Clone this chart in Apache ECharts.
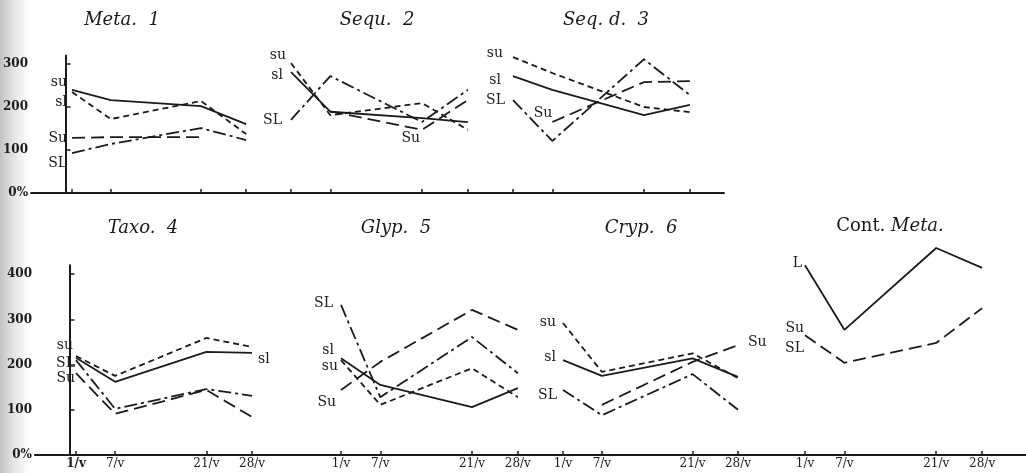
<!DOCTYPE html>
<html><head><meta charset="utf-8">
<script src="https://cdn.jsdelivr.net/npm/echarts@6/dist/echarts.min.js"></script>
<style>html,body{margin:0;padding:0;background:#fff}#c{width:1026px;height:473px}</style>
</head><body><div id="c"></div>
<script>
// ---------- data ----------
const dates = [1, 7, 21, 28];
const dateLabels = ['1/v', '7/v', '21/v', '28/v'];
const yTicksTop = [0, 100, 200, 300];
const yTicksBottom = [0, 100, 200, 300, 400];
const panelTitles = ['Meta.  1', 'Sequ.  2', 'Seq. d.  3', 'Taxo.  4', 'Glyp.  5', 'Cryp.  6', '{n|Cont.} {i|Meta.}'];

// Meta. 1
const meta_su = [235, 172, 214, 137];
const meta_sl = [240, 216, 202, 160];
const meta_Su = [128, 130, 130, null];
const meta_SL = [93, 114, 151, 123];
// Sequ. 2
const sequ_su = [302, 181, 209, 147];
const sequ_sl = [281, 189, 174, 165];
const sequ_Su = [null, 190, 147, 216];
const sequ_SL = [170, 272, 165, 240];
// Seq. d. 3
const seqd_su = [316, 279, 200, 188];
const seqd_sl = [272, 240, 181, 205];
const seqd_Su = [null, 165, 258, 260];
const seqd_SL = [216, 121, 311, 228];
// Taxo. 4
const taxo_su = [219, 175, 259, 239];
const taxo_sl = [215, 162, 228, 226];
const taxo_Su = [181, 91, 144, 84];
const taxo_SL = [210, 102, 146, 131];
// Glyp. 5
const glyp_su = [210, 111, 192, 128];
const glyp_sl = [214, 155, 106, 148];
const glyp_Su = [144, 206, 321, 277];
const glyp_SL = [332, 128, 261, 181];
// Cryp. 6
const cryp_su = [292, 184, 225, 170];
const cryp_sl = [210, 175, 214, 173];
const cryp_Su = [null, 111, 206, 243];
const cryp_SL = [144, 88, 179, 100];
// Cont. Meta.
const cont_L = [420, 277, 458, 414];
const cont_SuSL = [265, 204, 248, 325];

// ---------- layout & style ----------
const SERIF = '"DejaVu Serif", "Liberation Serif", serif';
const INK = '#1b1b1b';
const dash = {
  su: [6, 4],
  sl: 'solid',
  Su: [13, 6],
  SL: [13, 4, 3, 4],
  L: 'solid',
  SuSL: [13, 6]
};
const rows = {
  top: {top: 55.4, height: 137.6, max: 320, ticks: yTicksTop},
  bot: {top: 265.2, height: 189.8, max: 420, ticks: yTicksBottom}
};
const panels = [
  {row: 'top', left: 31, right: 265, x1: 72, ppd: 6.45, showY: true, showX: false,
   title: [122, 20], series: [
    {name: 'su', key: 'su', data: meta_su, lab: {i: 0, pos: 'left', d: 5, dy: -10}},
    {name: 'sl', key: 'sl', data: meta_sl, lab: {i: 0, pos: 'left', d: 5, dy: 13}},
    {name: 'Su', key: 'Su', data: meta_Su, lab: {i: 0, pos: 'left', d: 5, dy: 0}},
    {name: 'SL', key: 'SL', data: meta_SL, lab: {i: 0, pos: 'left', d: 5, dy: 10}}]},
  {row: 'top', left: 265, right: 490, x1: 291, ppd: 6.55, showY: false, showX: false,
   title: [377, 20], series: [
    {name: 'su', key: 'su', data: sequ_su, lab: {i: 0, pos: 'left', d: 5, dy: -8}},
    {name: 'sl', key: 'sl', data: sequ_sl, lab: {i: 0, pos: 'left', d: 8, dy: 3}},
    {name: 'Su', key: 'Su', data: sequ_Su, lab: {i: 2, pos: 'left', d: 2, dy: 9}},
    {name: 'SL', key: 'SL', data: sequ_SL, lab: {i: 0, pos: 'left', d: 9, dy: 0}}]},
  {row: 'top', left: 490, right: 724, x1: 513, ppd: 6.55, showY: false, showX: false,
   title: [606, 20], series: [
    {name: 'su', key: 'su', data: seqd_su, lab: {i: 0, pos: 'left', d: 10, dy: -4}},
    {name: 'sl', key: 'sl', data: seqd_sl, lab: {i: 0, pos: 'left', d: 12, dy: 4}},
    {name: 'Su', key: 'Su', data: seqd_Su, lab: {i: 1, pos: 'left', d: 0, dy: -9}},
    {name: 'SL', key: 'SL', data: seqd_SL, lab: {i: 0, pos: 'left', d: 8, dy: 0}}]},
  {row: 'bot', left: 35, right: 300, x1: 76, ppd: 6.52, showY: true, showX: true, boldFirst: true,
   title: [143, 228], series: [
    {name: 'su', key: 'su', data: taxo_su, lab: {i: 0, pos: 'left', d: 3, dy: -11}},
    {name: 'sl', key: 'sl', data: taxo_sl, lab: {i: 3, pos: 'right', d: 6, dy: 6}},
    {name: 'Su', key: 'Su', data: taxo_Su, lab: {i: 0, pos: 'left', d: 1, dy: 5}},
    {name: 'SL', key: 'SL', data: taxo_SL, lab: {i: 0, pos: 'left', d: 1, dy: 3}}]},
  {row: 'bot', left: 300, right: 540, x1: 341, ppd: 6.55, showY: false, showX: true,
   title: [396, 228], series: [
    {name: 'su', key: 'su', data: glyp_su, lab: {i: 0, pos: 'left', d: 3, dy: 6}},
    {name: 'sl', key: 'sl', data: glyp_sl, lab: {i: 0, pos: 'left', d: 7, dy: -8}},
    {name: 'Su', key: 'Su', data: glyp_Su, lab: {i: 0, pos: 'left', d: 5, dy: 12}},
    {name: 'SL', key: 'SL', data: glyp_SL, lab: {i: 0, pos: 'left', d: 8, dy: -2}}]},
  {row: 'bot', left: 540, right: 770, x1: 563, ppd: 6.48, showY: false, showX: true,
   title: [641, 228], series: [
    {name: 'su', key: 'su', data: cryp_su, lab: {i: 0, pos: 'left', d: 7, dy: -1}},
    {name: 'sl', key: 'sl', data: cryp_sl, lab: {i: 0, pos: 'left', d: 7, dy: -3}},
    {name: 'Su', key: 'Su', data: cryp_Su, lab: {i: 3, pos: 'right', d: 10, dy: -3}},
    {name: 'SL', key: 'SL', data: cryp_SL, lab: {i: 0, pos: 'left', d: 6, dy: 5}}]},
  {row: 'bot', left: 770, right: 1026, x1: 805, ppd: 6.56, showY: false, showX: true,
   title: [890, 226], series: [
    {name: 'L', key: 'L', data: cont_L, lab: {i: 0, pos: 'left', d: 3, dy: -2}},
    {name: 'Su\nSL', key: 'SuSL', data: cont_SuSL, lab: {i: 0, pos: 'left', d: 1, dy: 3}}]}
];

// ---------- build ----------
const grid = [], xAxis = [], yAxis = [], series = [], graphic = [];
graphic.push({type: 'rect', left: 0, top: 0, z: -10, silent: true,
  shape: {width: 34, height: 473},
  style: {fill: new echarts.graphic.LinearGradient(0, 0, 1, 0, [
    {offset: 0, color: 'rgba(120,120,120,0.45)'},
    {offset: 0.6, color: 'rgba(170,170,170,0.18)'},
    {offset: 1, color: 'rgba(255,255,255,0)'}])}});

panels.forEach((p, gi) => {
  const r = rows[p.row];
  grid.push({left: p.left, width: p.right - p.left, top: r.top, height: r.height});
  xAxis.push({
    type: 'value', gridIndex: gi,
    min: dates[0] - (p.x1 - p.left) / p.ppd,
    max: dates[0] + (p.right - p.x1) / p.ppd,
    splitLine: {show: false},
    axisLine: {show: true, onZero: false, lineStyle: {color: INK, width: 2}},
    axisTick: {show: true, inside: true, length: 4, customValues: dates, lineStyle: {color: INK, width: 1.5}},
    axisLabel: {show: p.showX, customValues: dates, margin: 3,
      formatter: v => {
        const k = dates.indexOf(v);
        const t = k >= 0 ? dateLabels[k] : '';
        return (p.boldFirst && k === 0) ? '{b|' + t + '}' : t;
      },
      fontFamily: SERIF, fontSize: 12, color: INK,
      rich: {b: {fontFamily: SERIF, fontSize: 12, fontWeight: 'bold', color: INK}}}
  });
  yAxis.push({
    type: 'value', gridIndex: gi, min: 0, max: r.max, show: p.showY,
    splitLine: {show: false},
    axisLine: {show: true, lineStyle: {color: INK, width: 2}},
    axisTick: {show: true, inside: true, length: 5, customValues: r.ticks.slice(1), lineStyle: {color: INK, width: 1.5}},
    axisLabel: {customValues: r.ticks, margin: 3, fontFamily: SERIF, fontSize: 12, fontWeight: 'bold', color: INK,
      formatter: v => v === 0 ? '0%' : String(v)}
  });
  p.series.forEach(s => {
    const data = [];
    dates.forEach((d, k) => {
      if (s.data[k] == null) return;
      const item = {value: [d, s.data[k]]};
      if (k === s.lab.i) {
        item.label = {show: true, formatter: s.name, position: s.lab.pos, distance: s.lab.d,
          offset: [0, s.lab.dy], fontFamily: SERIF, fontSize: 14, color: INK,
          align: s.lab.pos === 'left' ? 'right' : 'left', lineHeight: 20};
      }
      data.push(item);
    });
    series.push({
      type: 'line', name: s.name, xAxisIndex: gi, yAxisIndex: gi, data,
      symbol: 'circle', symbolSize: 0.01, showSymbol: true, animation: false, silent: true,
      clip: false,
      itemStyle: {color: 'rgba(0,0,0,0)'},
      lineStyle: {color: INK, width: 1.8, type: dash[s.key]},
      label: {show: false}
    });
  });
  graphic.push({type: 'text', x: p.title[0], y: p.title[1], silent: true,
    style: {text: panelTitles[gi], fill: INK, font: 'italic 18px ' + SERIF,
      align: 'center', verticalAlign: 'middle', textAlign: 'center', textVerticalAlign: 'middle',
      rich: {n: {fontStyle: 'normal', fontFamily: SERIF, fontSize: 18, fill: INK},
             i: {fontStyle: 'italic', fontFamily: SERIF, fontSize: 18, fill: INK}}}});
});

const chart = echarts.init(document.getElementById('c'), null, {renderer: 'canvas'});
chart.setOption({backgroundColor: '#ffffff', animation: false, grid, xAxis, yAxis, series, graphic});
</script></body></html>
